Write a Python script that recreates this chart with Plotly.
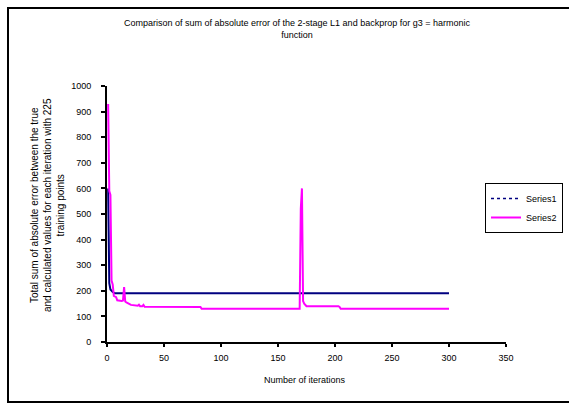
import plotly.graph_objects as go

# Series1 (navy) breakpoints
s1_iter = [1, 2, 3, 5, 7, 300]
s1_err = [600, 230, 205, 195, 190, 190]

# Series2 (magenta) breakpoints
s2_iter = [1, 2, 3, 4, 5, 6, 8, 9, 13, 14, 15, 16, 17, 19, 21, 27, 28, 29, 31, 32, 33, 82, 83,
           169, 170, 171, 172, 173, 174, 175, 203, 204, 205, 300]
s2_err = [930, 590, 575, 240, 225, 180, 175, 163, 160, 162, 215, 158, 155, 150, 145, 142, 146, 140, 140, 145, 138, 137, 130,
          130, 520, 600, 160, 150, 145, 140, 140, 137, 130, 130]

x_ticks = [0, 50, 100, 150, 200, 250, 300, 350]
y_ticks = [0, 100, 200, 300, 400, 500, 600, 700, 800, 900, 1000]

FONT = "Liberation Sans, Arial, sans-serif"

fig = go.Figure()
fig.add_trace(go.Scatter(x=s1_iter, y=s1_err, mode="lines", showlegend=False,
                         line=dict(color="#000080", width=2)))
fig.add_trace(go.Scatter(x=s2_iter, y=s2_err, mode="lines", showlegend=False,
                         line=dict(color="#FF00FF", width=2)))
# legend entries
fig.add_trace(go.Scatter(x=[None], y=[None], mode="lines", name="Series1",
                         line=dict(color="#000080", width=1.5, dash="dot")))
fig.add_trace(go.Scatter(x=[None], y=[None], mode="lines", name="Series2",
                         line=dict(color="#FF00FF", width=2)))

W, H = 569, 405
L, R, T, B = 107, 506, 86, 342
pw, ph = R - L, B - T

def px(x):
    return (x - L) / pw

def py(y):
    return (B - y) / ph

fig.update_layout(
    width=W, height=H,
    margin=dict(l=L, r=W - R, t=T, b=H - B, autoexpand=False),
    paper_bgcolor="white", plot_bgcolor="white",
    font=dict(family=FONT, size=9, color="black"),
    showlegend=True,
    legend=dict(x=px(485), y=py(183), xanchor="left", yanchor="top",
                bordercolor="black", borderwidth=1, bgcolor="white",
                font=dict(size=9), tracegroupgap=0, itemwidth=30),
    xaxis=dict(range=[0, 350], tickvals=x_ticks, showgrid=False, zeroline=False,
               showline=True, linecolor="black", linewidth=2,
               ticks="outside", ticklen=3, tickwidth=2, tickcolor="black",
               ticklabelstandoff=3),
    yaxis=dict(range=[0, 1000], tickvals=y_ticks, showgrid=False, zeroline=False,
               showline=True, linecolor="black", linewidth=2,
               ticks="outside", ticklen=4, tickwidth=2, tickcolor="black",
               ticklabelstandoff=8),
    shapes=[dict(type="rect", xref="paper", yref="paper",
                 x0=px(8), x1=px(590), y0=py(402), y1=py(8),
                 line=dict(color="black", width=2), layer="below")],
    annotations=[
        dict(text="Comparison of sum of absolute error of the 2-stage L1 and backprop for g3 = harmonic<br>function",
             xref="paper", yref="paper", x=px(297), y=py(28.5), xanchor="center", yanchor="middle",
             showarrow=False, font=dict(size=9)),
        dict(text="Total sum of absolute error between the true<br>and calculated values for each iteration with 225<br>training points",
             xref="paper", yref="paper", x=px(47), y=py(205), xanchor="center", yanchor="middle",
             textangle=-90, showarrow=False, font=dict(size=10)),
        dict(text="Number of iterations", xref="paper", yref="paper", x=px(305), y=py(380),
             xanchor="center", yanchor="middle", showarrow=False, font=dict(size=9)),
    ],
)

fig.write_html("out.html")
